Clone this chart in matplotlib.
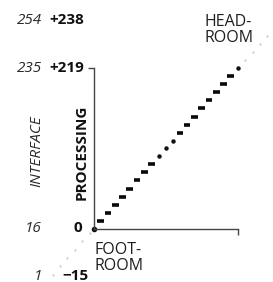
import matplotlib
matplotlib.use('Agg')
import matplotlib.pyplot as plt

plt.rcParams['font.family'] = ['Open Sans', 'DejaVu Sans']

# ---- data (code levels) ----
dash_levels = [11, 22, 33, 44, 55, 66, 77, 88, 131, 142, 153, 164, 175, 186, 197, 208]
gap_dots = [99, 110, 120, 219]
headroom_dots = [230, 241, 252, 263]
footroom_dots = [-6, -17, -28, -40, -51, -62]

interface_labels = ['254', '235', '16', '1']
processing_labels = ['+238', '+219', '0', '\u221215']
axis_max = 219

W, H, DPI = 273, 282, 100
fig = plt.figure(figsize=(W / DPI, H / DPI), dpi=DPI)

def px(x, y):
    return x / W, 1 - y / H

# axes placed so that data 0..219 spans pixel box
x0, x1, ybot, ytop = 93.5, 238.0, 229.0, 68.0
ax = fig.add_axes([x0 / W, (H - ybot) / H, (x1 - x0) / W, (ybot - ytop) / H])
ax.set_xlim(0, axis_max)
ax.set_ylim(0, axis_max)
ax.patch.set_visible(False)
for s in ['top', 'right']:
    ax.spines[s].set_visible(False)
for s in ['left', 'bottom']:
    ax.spines[s].set_color('#444444')
    ax.spines[s].set_linewidth(1.0)
ax.set_yticks([axis_max])
ax.set_xticks([axis_max])
ax.tick_params(axis='y', direction='out', length=4.3, width=1.0, color='#444444', labelleft=False)
ax.tick_params(axis='x', direction='out', length=4.5, width=1.0, color='#444444', labelbottom=False)

# staircase dashes
half = 5.0
ax.hlines(dash_levels, [v - half for v in dash_levels], [v + half for v in dash_levels],
          colors='#0a0a0a', linewidth=2.6, capstyle='butt', clip_on=False)
ax.plot(gap_dots, gap_dots, 'o', color='#111111', markersize=2.2, clip_on=False)
ax.plot(headroom_dots, headroom_dots, 'o', color='#c8c8c8', markersize=1.6,
        markeredgewidth=0, clip_on=False)
ax.plot(footroom_dots, footroom_dots, 'o', color='#cccccc', markersize=1.6,
        markeredgewidth=0, clip_on=False)
ax.plot([0], [0], 'o', color='#111111', markersize=3.0, clip_on=False)

# row labels (schematic, non-linear positions)
rows_y = [20.5, 68.5, 228.0, 276.0]
proc_x = [84.0, 84.0, 82.5, 88.5]
for lab, yy in zip(interface_labels, rows_y):
    fig.text(*px(42.0, yy), lab, ha='right', va='center', fontsize=11,
             style='italic', color='#2a2a2a')
for lab, xx, yy in zip(processing_labels, proc_x, rows_y):
    fig.text(*px(xx, yy), lab, ha='right', va='center', fontsize=11,
             fontweight='bold', color='#111111')

fig.text(*px(81.5, 152), 'PROCESSING', rotation=90, ha='center', va='center',
         fontsize=11, fontweight='bold', color='#111111')
fig.text(*px(36.5, 151.5), 'INTERFACE', rotation=90, ha='center', va='center',
         fontsize=11, style='italic', color='#2a2a2a')

fig.text(*px(204.5, 30), 'HEAD-\nROOM', ha='left', va='center', fontsize=11.5,
         color='#1e1e1e', linespacing=0.92)
fig.text(*px(94.5, 258), 'FOOT-\nROOM', ha='left', va='center', fontsize=11.5,
         color='#1e1e1e', linespacing=0.92)

fig.savefig('out.png', dpi=DPI)
